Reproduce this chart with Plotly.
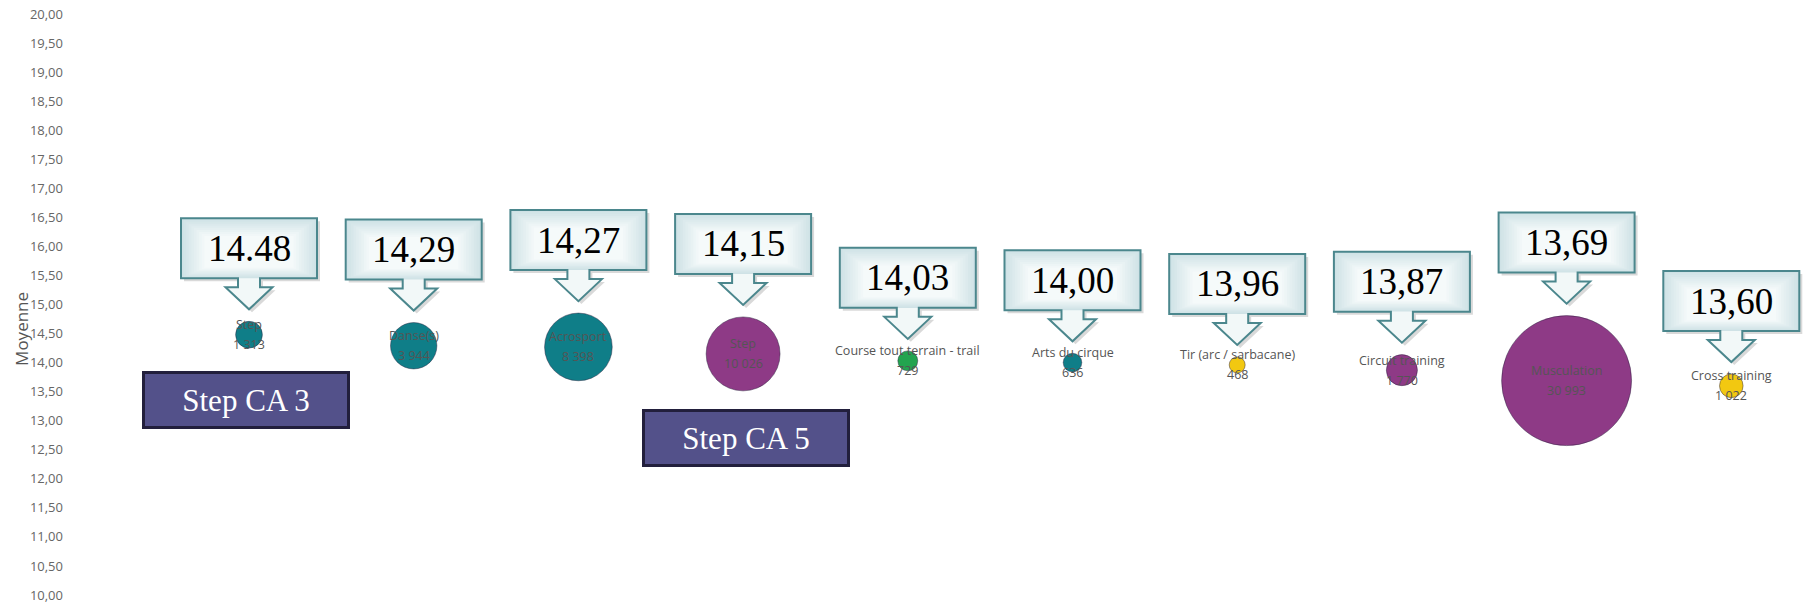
import math
import plotly.graph_objects as go

# ---------------- data ----------------
categories = ["Step", "Danse(s)", "Acrosport", "Step", "Course tout terrain - trail",
              "Arts du cirque", "Tir (arc / sarbacane)", "Circuit training",
              "Musculation", "Cross training"]
moyennes = [14.48, 14.29, 14.27, 14.15, 14.03, 14.00, 13.96, 13.87, 13.69, 13.60]
effectifs = [1313, 3944, 8398, 10026, 729, 636, 468, 1770, 30993, 1022]
callout_labels = ["14.48", "14,29", "14,27", "14,15", "14,03", "14,00",
                  "13,96", "13,87", "13,69", "13,60"]
group_labels = ["Step CA 3", "Step CA 5"]
group_of = [0, 3]  # index of the bubble each group label refers to
y_tick_values = [10 + 0.5 * k for k in range(21)]
y_title = "Moyenne"

# ---------------- styles ----------------
TEAL, PURPLE, GREEN, YELLOW = "#0f7e88", "#8e3a86", "#22a44f", "#f2c811"
bubble_colors = [TEAL, TEAL, TEAL, PURPLE, GREEN, TEAL, YELLOW, PURPLE, PURPLE, YELLOW]
W, H = 1810, 604
ML, MR, MT, MB = 70, 0, 14, 7
X_FIRST_PX, X_STEP_PX = 249, 164.7
MAX_D = 130
sizeref = 2 * max(effectifs) / (MAX_D ** 2)

x_idx = list(range(len(categories)))
plot_w = W - ML - MR
x_min = -(X_FIRST_PX - ML) / X_STEP_PX
x_max = x_min + plot_w / X_STEP_PX

fig = go.Figure()
fig.add_trace(go.Scatter(
    x=x_idx, y=moyennes, mode="markers",
    marker=dict(size=effectifs, sizemode="area", sizeref=sizeref,
                color=bubble_colors, opacity=1,
                line=dict(width=1, color="rgba(40,30,60,0.45)")),
    customdata=effectifs, text=categories,
    hoverinfo="skip", showlegend=False))

label_font = dict(family="Segoe UI, Open Sans, sans-serif", size=12.5, color="#555555")
annotations = []
shapes = []

# bubble labels: name above centre, count below
for i, (c, v, n) in enumerate(zip(categories, moyennes, effectifs)):
    annotations.append(dict(x=i, y=v, xref="x", yref="y", text=c, showarrow=False,
                            yshift=10, font=label_font, xanchor="center", yanchor="middle"))
    annotations.append(dict(x=i, y=v, xref="x", yref="y", text=f"{n:,}".replace(",", " "),
                            showarrow=False, yshift=-10, font=label_font,
                            xanchor="center", yanchor="middle"))

# callouts (down-arrow boxes) anchored on each bubble, in pixels
BOX_HW, BOX_H = 68, 60
STEM_HW, STEM_H = 11, 9
HEAD_HW, HEAD_H = 23.5, 22
GAP = 12
EDGE_RGB, CENTER_RGB = (207, 226, 230), (245, 250, 250)
N_SHADES = 10


def shade(t):
    return "rgb(%d,%d,%d)" % tuple(round(e + (c - e) * t) for e, c in zip(EDGE_RGB, CENTER_RGB))


def callout_path(base, dx=0.0, dy=0.0):
    pts = [(-BOX_HW, base + HEAD_H + STEM_H), (-STEM_HW, base + HEAD_H + STEM_H),
           (-STEM_HW, base + HEAD_H), (-HEAD_HW, base + HEAD_H), (0, base),
           (HEAD_HW, base + HEAD_H), (STEM_HW, base + HEAD_H),
           (STEM_HW, base + HEAD_H + STEM_H), (BOX_HW, base + HEAD_H + STEM_H),
           (BOX_HW, base + HEAD_H + STEM_H + BOX_H), (-BOX_HW, base + HEAD_H + STEM_H + BOX_H)]
    s = "M " + " L ".join(f"{x + dx:.1f},{y + dy:.1f}" for x, y in pts) + " Z"
    return s


for i, (v, n, lab) in enumerate(zip(moyennes, effectifs, callout_labels)):
    radius = math.sqrt(n / (2 * sizeref))
    base = radius + GAP
    box_y0 = base + HEAD_H + STEM_H
    common = dict(xref="x", yref="y", xsizemode="pixel", ysizemode="pixel",
                  xanchor=i, yanchor=v, layer="above")
    shapes.append(dict(type="path", path=callout_path(base, 3, -3),
                       fillcolor="rgba(0,0,0,0.15)", line=dict(width=0), **common))
    shapes.append(dict(type="path", path=callout_path(base), fillcolor="#f2f8f8",
                       line=dict(width=0), **common))
    for k in range(N_SHADES):
        t = k / (N_SHADES - 1)
        inset = 2.6 * k
        shapes.append(dict(type="rect", x0=-BOX_HW + inset, x1=BOX_HW - inset,
                           y0=box_y0 + inset * 0.45, y1=box_y0 + BOX_H - inset * 0.75,
                           fillcolor=shade(t), line=dict(width=0), **common))
    shapes.append(dict(type="path", path=callout_path(base), fillcolor="rgba(0,0,0,0)",
                       line=dict(width=2, color="#4b878d"), **common))
    annotations.append(dict(x=i, y=v, xref="x", yref="y", text=lab, showarrow=False,
                            yshift=box_y0 + BOX_H / 2,
                            xanchor="center", yanchor="middle",
                            font=dict(family="Liberation Serif, Georgia, serif",
                                      size=37, color="#000000")))

# group labels (Step CA 3 / Step CA 5)
group_offsets = [(-3, -65), (2.5, -84)]
for lab, gi, (dx, dy) in zip(group_labels, group_of, group_offsets):
    annotations.append(dict(x=gi, y=moyennes[gi], xref="x", yref="y", text=lab,
                            showarrow=False, xshift=dx, yshift=dy,
                            width=200, height=50, bgcolor="#53518a",
                            bordercolor="#221f3c", borderwidth=3, borderpad=1,
                            xanchor="center", yanchor="middle",
                            font=dict(family="Liberation Serif, Georgia, serif",
                                      size=31, color="#ffffff")))

# y axis title
annotations.append(dict(x=0, y=0.458, xref="paper", yref="paper", xshift=-48,
                        text=y_title, textangle=-90, showarrow=False,
                        font=dict(family="Segoe UI, Open Sans, sans-serif", size=17,
                                  color="#555555"),
                        xanchor="center", yanchor="middle"))

fig.update_layout(
    width=W, height=H, margin=dict(l=ML, r=MR, t=MT, b=MB),
    paper_bgcolor="white", plot_bgcolor="white",
    separators=", ",
    xaxis=dict(range=[x_min, x_max], showgrid=False, zeroline=False, showline=False,
               showticklabels=False, ticks=""),
    yaxis=dict(range=[10, 20], tickvals=y_tick_values, tickformat=".2f",
               showgrid=False, zeroline=False, showline=False, ticks="",
               ticklabelstandoff=6, ticklabeloverflow="allow",
               tickfont=dict(family="Segoe UI, Open Sans, sans-serif", size=13,
                             color="#666666")),
    shapes=shapes, annotations=annotations,
)

fig.write_html("out.html", config={"displayModeBar": False},
               post_script="document.body.style.margin='0';document.body.style.overflow='hidden';")
